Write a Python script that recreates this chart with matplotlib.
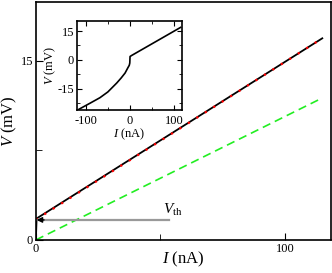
import numpy as np
import matplotlib.pyplot as plt
from matplotlib.ticker import MultipleLocator, FixedLocator

plt.rcParams['font.family'] = 'serif'
plt.rcParams['font.serif'] = ['Liberation Serif', 'DejaVu Serif']
plt.rcParams['mathtext.fontset'] = 'custom'
plt.rcParams['mathtext.rm'] = 'Liberation Serif'
plt.rcParams['mathtext.it'] = 'Liberation Serif:italic'
plt.rcParams['axes.unicode_minus'] = False

## main panel data (I in nA, V in mV)
I_data = [0.0, 0.3, 115.0]
V_data = [0.0, 1.8, 16.9]
I_fit = [0.0, 115.0]
V_fit = [1.7, 16.9]
I_ohm = [0.0, 115.0]
V_ohm = [0.0, 11.9]
V_th = 1.68
I_arrow = [53.5, 0.3]

## inset data
I_inset = [-120, -114, -90, -68, -50, -30, -20, -11, -4.5, -1.5, -0.3, 0.0, 0.3, 4.5, 115]
V_inset = [-26.2, -25.4, -22.4, -19.6, -16.6, -12.0, -9.4, -6.8, -4.0, -2.8, -1.6, 0.2, 1.8, 2.4, 16.9]

fig = plt.figure(figsize=(3.32, 2.73), dpi=100)
ax = fig.add_axes([0.108, 0.121, 0.889, 0.872])

ax.plot(I_ohm, V_ohm, color='#22ee22', lw=1.2, ls=(0, (5, 3)))
ax.plot(I_data, V_data, color='black', lw=1.3)
ax.plot(I_fit, V_fit, color='red', lw=1.6, ls=(0, (1.0, 3.5)))

## threshold arrow: gray shaft, black head
ax.plot(I_arrow, [V_th, V_th], color='#999999', lw=1.6)
ax.annotate('', xy=(I_arrow[1], V_th), xytext=(I_arrow[1] + 3, V_th),
            arrowprops=dict(arrowstyle='-|>', color='black', lw=1.0,
                            mutation_scale=8, shrinkA=0, shrinkB=0))
ax.text(51, 2.2, r'$V_{\rm th}$', fontsize=11)

ax.set_xlim(0, 118.5)
ax.set_ylim(0, 19.95)
ax.xaxis.set_major_locator(FixedLocator([0, 100]))
ax.xaxis.set_minor_locator(FixedLocator([50]))
ax.yaxis.set_major_locator(FixedLocator([0, 15]))
ax.yaxis.set_minor_locator(FixedLocator([7.5]))
ax.tick_params(which='both', direction='in', top=False, right=False, labelsize=9, pad=2)
ax.tick_params(which='major', length=5)
ax.tick_params(which='minor', length=4)
ax.set_xlabel(r'$I$ (nA)', fontsize=12, va='center')
ax.set_ylabel(r'$V$ (mV)', fontsize=12, va='center')
ax.xaxis.set_label_coords(0.5, -0.082)
ax.yaxis.set_label_coords(-0.09, 0.5)
for s in ax.spines.values():
    s.set_linewidth(1.2)

## inset
axi = fig.add_axes([0.232, 0.597, 0.316, 0.326])
axi.plot(I_inset, V_inset, color='black', lw=1.2)
axi.set_xlim(-120, 118)
axi.set_ylim(-26, 20.2)
axi.xaxis.set_major_locator(FixedLocator([-100, 0, 100]))
axi.xaxis.set_minor_locator(MultipleLocator(50))
axi.yaxis.set_major_locator(FixedLocator([-15, 0, 15]))
axi.yaxis.set_minor_locator(MultipleLocator(7.5))
axi.tick_params(which='both', direction='in', top=True, right=True, labelsize=9, pad=2)
axi.tick_params(axis='x', pad=3.5)
axi.tick_params(which='major', length=3.5)
axi.tick_params(which='minor', length=2.5)
axi.set_xlabel(r'$I$ (nA)', fontsize=9, labelpad=0)
axi.set_ylabel(r'$V$ (mV)', fontsize=9, labelpad=0)
for s in axi.spines.values():
    s.set_linewidth(1.2)

fig.savefig('out.png', dpi=100)
